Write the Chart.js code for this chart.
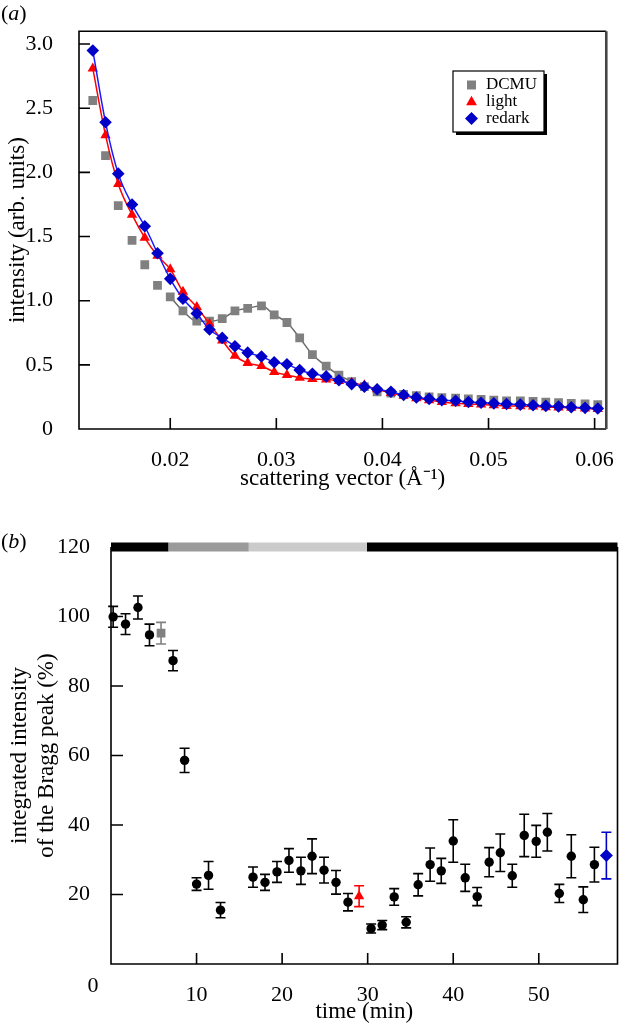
<!DOCTYPE html>
<html>
<head>
<meta charset="utf-8">
<style>
  html, body { margin: 0; padding: 0; background: #fff; }
  #wrap { position: relative; width: 624px; height: 1026px; }
  #chartA { position: absolute; left: 0; top: 0; }
  #chartB { position: absolute; left: 0; top: 505px; }
</style>
</head>
<body>
<div id="wrap">
  <canvas id="chartA" width="624" height="505"></canvas>
  <canvas id="chartB" width="624" height="521"></canvas>
</div>

<script src="https://cdn.jsdelivr.net/npm/chart.js"></script>

<script>
  // ---- panel (a): scattering curves ----
  const qValues = [0.0127, 0.0139, 0.0151, 0.0164, 0.0176, 0.0188, 0.0200, 0.0212, 0.0225, 0.0237,
                   0.0249, 0.0261, 0.0273, 0.0286, 0.0298, 0.0310, 0.0322, 0.0334, 0.0347, 0.0359,
                   0.0371, 0.0383, 0.0395, 0.0408, 0.0420, 0.0432, 0.0444, 0.0456, 0.0469, 0.0481,
                   0.0493, 0.0505, 0.0517, 0.0530, 0.0542, 0.0554, 0.0566, 0.0578, 0.0591, 0.0603];
  const dcmu =    [2.56, 2.13, 1.74, 1.47, 1.28, 1.12, 1.03, 0.92, 0.84, 0.84,
                   0.86, 0.92, 0.94, 0.96, 0.89, 0.83, 0.71, 0.58, 0.49, 0.42,
                   0.37, 0.33, 0.29, 0.28, 0.27, 0.26, 0.25, 0.245, 0.24, 0.235,
                   0.23, 0.225, 0.22, 0.22, 0.215, 0.21, 0.205, 0.2, 0.195, 0.19];
  const light =   [2.81, 2.29, 1.91, 1.67, 1.49, 1.35, 1.245, 1.07, 0.95, 0.82,
                   0.69, 0.57, 0.515, 0.49, 0.445, 0.42, 0.40, 0.39, 0.385, 0.375,
                   0.36, 0.34, 0.31, 0.28, 0.26, 0.24, 0.225, 0.21, 0.2, 0.195,
                   0.19, 0.185, 0.18, 0.178, 0.175, 0.17, 0.168, 0.165, 0.16, 0.155];
  const redark =  [2.95, 2.39, 1.99, 1.75, 1.58, 1.37, 1.17, 1.015, 0.90, 0.775,
                   0.71, 0.645, 0.595, 0.565, 0.52, 0.505, 0.46, 0.43, 0.41, 0.38,
                   0.35, 0.33, 0.31, 0.29, 0.265, 0.245, 0.235, 0.225, 0.22, 0.21,
                   0.205, 0.2, 0.195, 0.19, 0.185, 0.18, 0.175, 0.17, 0.165, 0.16];
  const dcmuFitRange = [0.0195, 0.0375];   // q range of the grey guide line
  const xTicksA = [0.02, 0.03, 0.04, 0.05, 0.06];
  const yTicksA = [0, 0.5, 1.0, 1.5, 2.0, 2.5, 3.0];

  // ---- panel (b): Bragg peak vs time ----
  const timeMin  = [0.25, 1.7, 3.15, 4.5, 7.25, 8.6, 10.0, 11.4, 12.8, 16.6, 18.0, 19.4, 20.8, 22.2, 23.5,
                    24.9, 26.3, 27.7, 30.4, 31.7, 33.1, 34.5, 35.9, 37.3, 38.6, 40.0, 41.4, 42.8, 44.2,
                    45.5, 46.9, 48.3, 49.7, 51.0, 52.4, 53.8, 55.2, 56.5];
  const braggPct = [99.9, 97.8, 102.6, 94.7, 87.3, 58.6, 23.0, 25.5, 15.5, 25.0, 23.5, 26.5, 29.8, 26.8, 31.0,
                    27.0, 23.5, 17.8, 10.2, 11.2, 19.3, 12.0, 22.8, 28.6, 26.8, 35.4, 24.8, 19.4, 29.3,
                    32.0, 25.4, 37.0, 35.3, 37.9, 20.3, 31.0, 18.5, 28.6];
  const braggErr = [3.0, 3.0, 3.3, 3.1, 2.9, 3.5, 1.8, 4.0, 2.2, 2.9, 2.3, 3.0, 3.4, 3.9, 5.0,
                    3.7, 3.4, 2.5, 1.3, 1.3, 2.4, 1.6, 3.2, 4.8, 3.6, 6.1, 3.9, 2.6, 4.2,
                    5.4, 3.3, 6.1, 4.6, 5.4, 2.6, 6.2, 3.7, 5.0];
  const dcmuTime = [5.85],  dcmuPct = [95.2],  dcmuErr = [3.1];
  const lightTime = [29.0], lightPct = [19.5], lightErr = [3.0];
  const redarkTime = [57.9], redarkPct = [31.2], redarkErr = [6.7];
  const phaseEdges = [0, 6.7, 16.1, 29.9, 59.2];
  const xTicksB = [10, 20, 30, 40, 50];
  const yTicksB = [20, 40, 60, 80, 100, 120];

  // styles
  const SERIF = '"Liberation Serif", "Times New Roman", Times, serif';
  const GREY = '#808080', RED = '#ff0000', BLUE = '#0000c8';
  const phaseColors = ['#000000', '#9a9a9a', '#cbcbcb', '#000000'];

  Chart.defaults.font.family = SERIF;
  Chart.defaults.color = '#000';

  const pts = (xs, ys) => xs.map((x, i) => ({x: x, y: ys[i]}));

  function panelLabel(ctx, letter, x, y) {
    ctx.save();
    ctx.fillStyle = '#000';
    ctx.textBaseline = 'middle';
    ctx.textAlign = 'left';
    ctx.font = '22px ' + SERIF;
    ctx.fillText('(', x, y);
    let w = ctx.measureText('(').width;
    ctx.font = 'italic 22px ' + SERIF;
    ctx.fillText(letter, x + w, y);
    w += ctx.measureText(letter).width;
    ctx.font = '22px ' + SERIF;
    ctx.fillText(')', x + w, y);
    ctx.restore();
  }

  // box round the plot and inward tick marks
  function frame(chart, len) {
    const {ctx, chartArea: a, scales: {x, y}} = chart;
    ctx.save();
    ctx.strokeStyle = '#000';
    ctx.lineWidth = 1.6;
    ctx.beginPath();
    ctx.moveTo(a.right, a.top); ctx.lineTo(a.left, a.top); ctx.lineTo(a.left, a.bottom); ctx.lineTo(a.right, a.bottom);
    ctx.stroke();
    ctx.strokeStyle = '#444';
    ctx.lineWidth = 2.6;
    ctx.beginPath();
    ctx.moveTo(a.right, a.top); ctx.lineTo(a.right, a.bottom);
    ctx.stroke();
    ctx.strokeStyle = '#000';
    ctx.lineWidth = 1.6;
    ctx.beginPath();
    x.ticks.forEach(t => {
      const px = x.getPixelForValue(t.value);
      if (px > a.left + 2 && px < a.right - 2) { ctx.moveTo(px, a.bottom); ctx.lineTo(px, a.bottom - len); }
    });
    y.ticks.forEach(t => {
      const py = y.getPixelForValue(t.value);
      if (py > a.top + 2 && py < a.bottom - 2) { ctx.moveTo(a.left, py); ctx.lineTo(a.left + len, py); }
    });
    ctx.stroke();
    ctx.restore();
  }

  function marker(ctx, style, x, y, color) {
    ctx.save();
    ctx.fillStyle = color;
    ctx.beginPath();
    if (style === 'rect') {
      ctx.rect(x - 4.5, y - 4.5, 9, 9);
    } else if (style === 'triangle') {
      ctx.moveTo(x, y - 6); ctx.lineTo(x + 5.4, y + 3.5); ctx.lineTo(x - 5.4, y + 3.5);
    } else {
      ctx.moveTo(x, y - 6.5); ctx.lineTo(x + 6.5, y); ctx.lineTo(x, y + 6.5); ctx.lineTo(x - 6.5, y);
    }
    ctx.closePath();
    ctx.fill();
    ctx.restore();
  }

  const panelA = {
    id: 'panelA',
    afterDraw(chart) {
      const ctx = chart.ctx;
      frame(chart, 11);
      panelLabel(ctx, 'a', 1, 14);
      // legend box with shadow
      const bx = 453, by = 71, bw = 91, bh = 61;
      ctx.save();
      ctx.fillStyle = '#000';
      ctx.fillRect(bx + 3, by + 3, bw, bh);
      ctx.fillStyle = '#fff';
      ctx.fillRect(bx, by, bw, bh);
      ctx.strokeStyle = '#000';
      ctx.lineWidth = 1.2;
      ctx.strokeRect(bx, by, bw, bh);
      const items = [['DCMU', 'rect', GREY], ['light', 'triangle', RED], ['redark', 'rectRot', BLUE]];
      ctx.font = '17px ' + SERIF;
      ctx.textBaseline = 'middle';
      ctx.textAlign = 'left';
      items.forEach((it, i) => {
        const yy = by + 14 + i * 16.7;
        marker(ctx, it[1], bx + 18.5, yy, it[2]);
        ctx.fillStyle = '#000';
        ctx.fillText(it[0], bx + 33, yy);
      });
      ctx.restore();
    }
  };

  const chartA = new Chart(document.getElementById('chartA'), {
    type: 'scatter',
    data: {
      datasets: [
        { label: 'redark', data: pts(qValues, redark), showLine: true, borderColor: '#1a1aff', borderWidth: 1.5,
          cubicInterpolationMode: 'monotone', pointStyle: 'rectRot', pointRadius: 6.3,
          pointBackgroundColor: BLUE, pointBorderWidth: 0 },
        { label: 'light', data: pts(qValues, light), showLine: true, borderColor: RED, borderWidth: 1.5,
          cubicInterpolationMode: 'monotone', pointStyle: 'triangle', pointRadius: 6,
          pointBackgroundColor: RED, pointBorderWidth: 0 },
        { label: 'DCMU', data: pts(qValues, dcmu), showLine: false, pointStyle: 'rect', pointRadius: 6.2,
          pointBackgroundColor: GREY, pointBorderWidth: 0 },
        { label: 'DCMU guide', data: pts(qValues, dcmu).filter(p => p.x >= dcmuFitRange[0] && p.x <= dcmuFitRange[1]),
          showLine: true, borderColor: '#6a6a6a', borderWidth: 1.5, cubicInterpolationMode: 'monotone', pointRadius: 0 }
      ]
    },
    options: {
      responsive: false,
      devicePixelRatio: 1,
      animation: false,
      events: [],
      layout: { padding: { top: 13, right: 2, left: 0, bottom: 0 } },
      plugins: { legend: { display: false }, tooltip: { enabled: false } },
      scales: {
        x: {
          type: 'linear', min: 0.0114, max: 0.0611,
          afterBuildTicks: s => { s.ticks = xTicksA.map(v => ({value: v})); },
          afterFit: s => { s.height = 76; },
          grid: { display: false }, border: { display: false },
          ticks: { font: { size: 22 }, padding: 10, maxRotation: 0, autoSkip: false, callback: v => v.toFixed(2) },
          title: { display: true, text: 'scattering vector (Å⁻¹)', font: { size: 23 }, padding: { top: 0, bottom: 12 } }
        },
        y: {
          type: 'linear', min: 0, max: 3.1,
          afterBuildTicks: s => { s.ticks = yTicksA.map(v => ({value: v})); },
          afterFit: s => { s.width = 79; },
          grid: { display: false }, border: { display: false },
          ticks: { font: { size: 22 }, padding: 18, autoSkip: false, callback: v => v === 0 ? '0' : v.toFixed(1) },
          title: { display: true, text: 'intensity (arb. units)', font: { size: 23 }, padding: { top: 4, bottom: 0 } }
        }
      }
    },
    plugins: [panelA]
  });

  // error bars under the markers of panel (b)
  const errorBars = {
    id: 'errorBars',
    beforeDatasetsDraw(chart) {
      const {ctx, scales: {x, y}} = chart;
      const groups = [
        [timeMin, braggPct, braggErr, '#000'],
        [dcmuTime, dcmuPct, dcmuErr, GREY],
        [lightTime, lightPct, lightErr, RED],
        [redarkTime, redarkPct, redarkErr, BLUE]
      ];
      ctx.save();
      ctx.lineWidth = 1.6;
      groups.forEach(g => {
        ctx.strokeStyle = g[3];
        ctx.beginPath();
        g[0].forEach((t, i) => {
          const px = x.getPixelForValue(t);
          const hi = y.getPixelForValue(g[1][i] + g[2][i]);
          const lo = y.getPixelForValue(g[1][i] - g[2][i]);
          ctx.moveTo(px, hi); ctx.lineTo(px, lo);
          ctx.moveTo(px - 5, hi); ctx.lineTo(px + 5, hi);
          ctx.moveTo(px - 5, lo); ctx.lineTo(px + 5, lo);
        });
        ctx.stroke();
      });
      ctx.restore();
    },
    afterDraw(chart) {
      const ctx = chart.ctx;
      const a = chart.chartArea;
      ctx.save();
      ctx.strokeStyle = '#000';
      ctx.lineWidth = 1.6;
      ctx.beginPath();
      ctx.moveTo(a.left, a.top); ctx.lineTo(a.left, a.bottom); ctx.lineTo(a.right, a.bottom); ctx.lineTo(a.right, a.top);
      ctx.stroke();
      ctx.beginPath();
      const {x, y} = chart.scales;
      x.ticks.forEach(t => {
        const px = x.getPixelForValue(t.value);
        ctx.moveTo(px, a.bottom); ctx.lineTo(px, a.bottom - 11);
      });
      y.ticks.forEach(t => {
        const py = y.getPixelForValue(t.value);
        if (py > a.top + 6) { ctx.moveTo(a.left, py); ctx.lineTo(a.left + 12, py); }
      });
      ctx.stroke();
      // shared corner zero
      ctx.fillStyle = '#000';
      ctx.font = '22px ' + SERIF;
      ctx.textAlign = 'center';
      ctx.textBaseline = 'middle';
      ctx.fillText('0', 93, 481);
      ctx.restore();
      panelLabel(ctx, 'b', 1, 37);
    }
  };

  const phaseSets = phaseColors.map((c, k) => ({
    label: 'phase ' + k,
    data: [{x: phaseEdges[k], y: yTicksB[yTicksB.length - 1]}, {x: phaseEdges[k + 1], y: yTicksB[yTicksB.length - 1]}],
    showLine: true, borderColor: c, borderWidth: 9, borderCapStyle: 'butt', pointRadius: 0, clip: false
  }));

  const chartB = new Chart(document.getElementById('chartB'), {
    type: 'scatter',
    data: {
      datasets: [
        { label: 'redark', data: pts(redarkTime, redarkPct), pointStyle: 'rectRot', pointRadius: 6.5,
          pointBackgroundColor: BLUE, pointBorderWidth: 0 },
        { label: 'light', data: pts(lightTime, lightPct), pointStyle: 'triangle', pointRadius: 6,
          pointBackgroundColor: RED, pointBorderWidth: 0 },
        { label: 'DCMU', data: pts(dcmuTime, dcmuPct), pointStyle: 'rect', pointRadius: 6.2,
          pointBackgroundColor: GREY, pointBorderWidth: 0 },
        { label: 'Bragg peak', data: pts(timeMin, braggPct), pointStyle: 'circle', pointRadius: 4.7,
          pointBackgroundColor: '#000', pointBorderWidth: 0, clip: false }
      ].concat(phaseSets)
    },
    options: {
      responsive: false,
      devicePixelRatio: 1,
      animation: false,
      events: [],
      layout: { padding: { top: 42, right: 2, left: 0, bottom: 0 } },
      plugins: { legend: { display: false }, tooltip: { enabled: false } },
      scales: {
        x: {
          type: 'linear', min: 0, max: 59.2,
          afterBuildTicks: s => { s.ticks = xTicksB.map(v => ({value: v})); },
          afterFit: s => { s.height = 62; },
          grid: { display: false }, border: { display: false },
          ticks: { font: { size: 22 }, padding: 10, maxRotation: 0, autoSkip: false },
          title: { display: true, text: 'time (min)', font: { size: 23 }, padding: { top: 0, bottom: 0 } }
        },
        y: {
          type: 'linear', min: 0, max: 120,
          afterBuildTicks: s => { s.ticks = yTicksB.map(v => ({value: v})); },
          afterFit: s => { s.width = 111; },
          grid: { display: false }, border: { display: false },
          ticks: { font: { size: 22 }, padding: 13, autoSkip: false },
          title: { display: true, text: ['integrated intensity', 'of the Bragg peak (%)'],
                   font: { size: 23, lineHeight: 1.15 }, padding: { top: 7, bottom: 0 } }
        }
      }
    },
    plugins: [errorBars]
  });
</script>
</body>
</html>
